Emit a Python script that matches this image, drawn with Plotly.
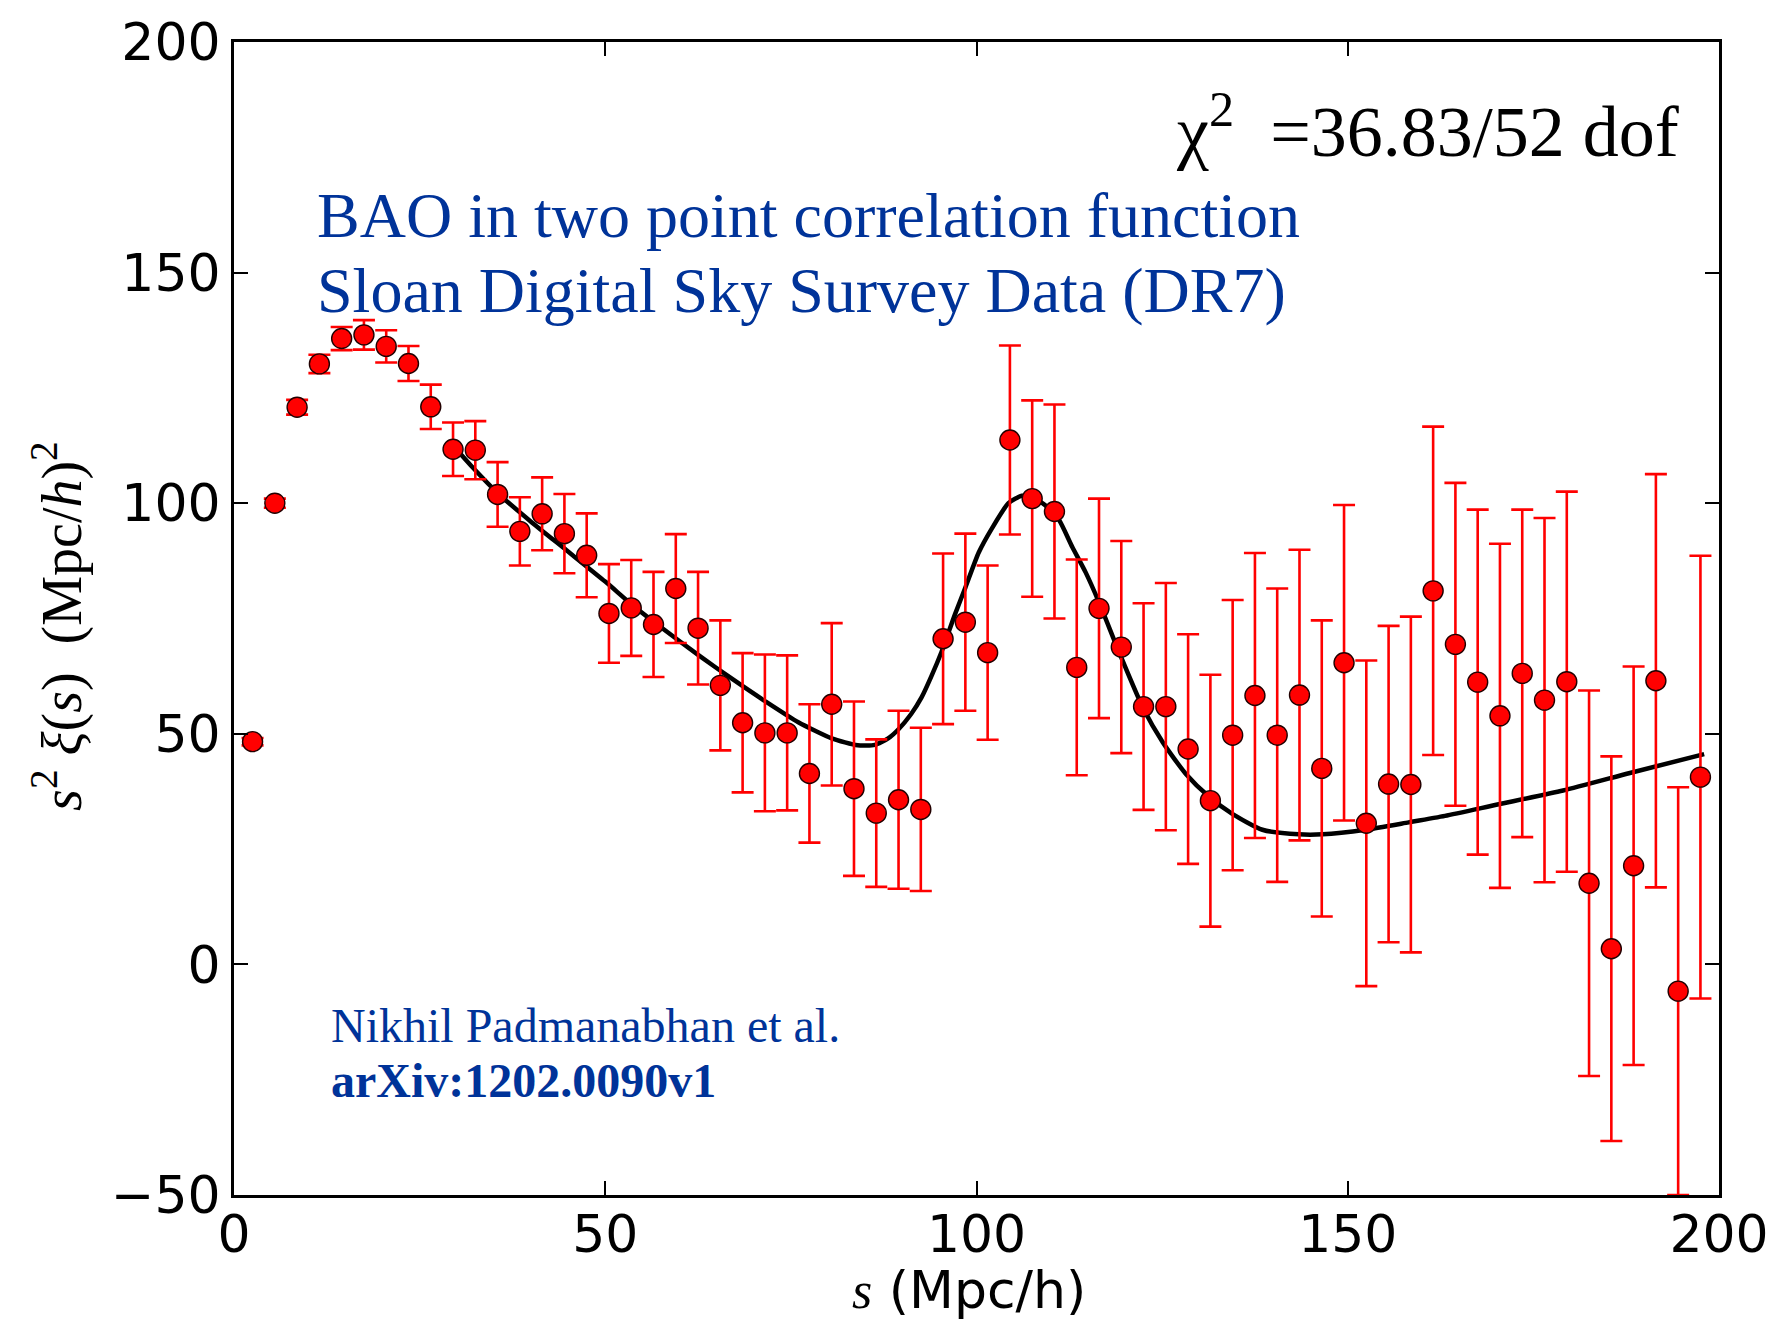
import plotly.graph_objects as go

# Bin centres of the separation s (Mpc/h)
s_bins = [2.5, 5.5, 8.5, 11.5, 14.5, 17.5, 20.5, 23.5, 26.5, 29.5,
          32.5, 35.5, 38.5, 41.5, 44.5, 47.5, 50.5, 53.5, 56.5, 59.5,
          62.5, 65.5, 68.5, 71.5, 74.5, 77.5, 80.5, 83.5, 86.5, 89.5,
          92.5, 95.5, 98.5, 101.5, 104.5, 107.5, 110.5, 113.5, 116.5, 119.5,
          122.5, 125.5, 128.5, 131.5, 134.5, 137.5, 140.5, 143.5, 146.5, 149.5,
          152.5, 155.5, 158.5, 161.5, 164.5, 167.5, 170.5, 173.5, 176.5, 179.5,
          182.5, 185.5, 188.5, 191.5, 194.5, 197.5]

# Measured s^2 xi(s)
s2xi = [48.3, 100.0, 120.8, 130.2, 135.7, 136.5, 134.0, 130.3, 120.9, 111.7,
        111.5, 101.9, 93.9, 97.7, 93.4, 88.7, 76.1, 77.3, 73.7, 81.5,
        72.9, 60.5, 52.4, 50.2, 50.2, 41.4, 56.4, 38.1, 32.8, 35.7,
        33.6, 70.6, 74.2, 67.6, 113.7, 101.0, 98.2, 64.4, 77.2, 68.8,
        55.9, 55.9, 46.7, 35.5, 49.7, 58.3, 49.7, 58.4, 42.5, 65.4,
        30.6, 39.1, 39.0, 81.0, 69.4, 61.2, 53.9, 63.1, 57.3, 61.3,
        17.6, 3.4, 21.4, 61.5, -5.8, 40.6]

# 1-sigma uncertainties
s2xi_err = [0.8, 1.0, 1.6, 2.0, 2.5, 3.2, 3.5, 3.8, 4.8, 5.8,
            6.3, 7.0, 7.4, 7.9, 8.6, 9.1, 10.7, 10.4, 11.4, 11.8,
            12.2, 14.1, 15.1, 17.0, 16.8, 15.0, 17.6, 18.9, 16.0, 19.3,
            17.7, 18.5, 19.2, 18.9, 20.5, 21.3, 23.2, 23.4, 23.8, 23.0,
            22.4, 26.8, 24.9, 27.3, 29.3, 30.9, 31.8, 31.5, 32.1, 34.2,
            35.3, 34.3, 36.4, 35.6, 35.0, 37.4, 37.3, 35.5, 39.5, 41.2,
            41.8, 41.7, 43.2, 44.8, 44.2, 48.0]

# Best-fit model curve
model_s = [29.5, 32.0, 35.5, 40.0, 44.7, 50.0, 53.6, 58.0, 62.6, 67.0,
           71.6, 76.0, 80.5, 84.0, 86.3, 88.1, 89.5, 91.2, 92.6, 93.9,
           95.3, 97.1, 98.5, 100.3, 102.1, 104.3, 106.1, 107.5, 109.3, 111.1,
           112.9, 114.7, 116.5, 119.3, 122.4, 125.1, 128.2, 131.3, 134.5, 138.5,
           143.4, 146.6, 152.4, 158.2, 163.1, 170.0, 179.0, 188.0, 198.0]
model_val = [112.5, 108.0, 102.2, 96.0, 89.9, 83.0, 78.0, 72.5, 67.0, 62.0,
             57.0, 52.5, 49.0, 47.5, 47.6, 49.0, 51.0, 54.3, 57.9, 62.4,
             67.8, 75.9, 81.7, 89.3, 94.6, 100.0, 101.6, 101.3, 99.5, 96.4,
             90.5, 85.0, 78.5, 67.3, 55.7, 48.1, 41.3, 36.4, 32.6, 29.2,
             28.2, 28.2, 29.2, 30.8, 32.2, 34.6, 37.7, 41.5, 45.6]

x_ticks = [0, 50, 100, 150, 200]
y_ticks = [-50, 0, 50, 100, 150, 200]

BLUE = "#003399"
SERIF = "Liberation Serif"
SANS = "DejaVu Sans"

fig = go.Figure()

fig.add_trace(go.Scatter(
    x=model_s, y=model_val, mode="lines",
    line=dict(color="black", width=4.5, shape="spline", smoothing=0.6),
    hoverinfo="skip", showlegend=False,
))

fig.add_trace(go.Scatter(
    x=s_bins, y=s2xi, mode="markers",
    marker=dict(color="#ff0000", size=20, line=dict(color="#220000", width=1.4)),
    error_y=dict(type="data", array=s2xi_err, visible=True,
                 color="#ff0000", thickness=2.6, width=11),
    showlegend=False,
))

axis_common = dict(
    showline=True, linecolor="black", linewidth=3, mirror="allticks",
    ticks="inside", ticklen=14, tickwidth=2, tickcolor="black",
    showgrid=False, zeroline=False,
    tickfont=dict(family=SANS, size=52, color="black"),
)

fig.update_xaxes(range=[0, 200], tickvals=x_ticks, ticklabelstandoff=-8,
                 **axis_common)
fig.update_yaxes(range=[-50, 200], tickvals=y_ticks, **axis_common)

annotations = [
    dict(text="χ<sup>2</sup>&nbsp;&nbsp;=36.83/52&nbsp;dof", x=0.9745, y=0.927,
         xanchor="right", yanchor="middle",
         font=dict(family=SERIF, size=72, color="black")),
    dict(text="BAO in two point correlation function", x=0.0544, y=0.8497,
         xanchor="left", yanchor="middle",
         font=dict(family=SERIF, size=64, color=BLUE)),
    dict(text="Sloan Digital Sky Survey Data (DR7)", x=0.0544, y=0.7841,
         xanchor="left", yanchor="middle",
         font=dict(family=SERIF, size=64, color=BLUE)),
    dict(text="Nikhil Padmanabhan et al.", x=0.0638, y=0.1468,
         xanchor="left", yanchor="middle",
         font=dict(family=SERIF, size=48, color=BLUE)),
    dict(text="<b>arXiv:1202.0090v1</b>", x=0.0638, y=0.0993,
         xanchor="left", yanchor="middle",
         font=dict(family=SERIF, size=48, color=BLUE)),
    dict(text='<i><span style="font-family:Liberation Serif">s</span></i> (Mpc/h)',
         x=0.495, y=-0.082, xanchor="center", yanchor="middle",
         font=dict(family=SANS, size=52, color="black")),
    dict(text="<i>s</i><sup>2</sup>&nbsp;<i>ξ</i>(<i>s</i>)&nbsp;&nbsp;(Mpc/<i>h</i>)<sup>2</sup>",
         x=-0.1182, y=0.494, xanchor="center", yanchor="middle", textangle=-90,
         font=dict(family=SERIF, size=56, color="black")),
]
for a in annotations:
    a.update(xref="paper", yref="paper", showarrow=False)

fig.update_layout(
    width=1781, height=1319,
    margin=dict(l=234, r=58, t=37, b=124),
    paper_bgcolor="white", plot_bgcolor="white",
    annotations=annotations,
)

fig.write_html("out.html")
